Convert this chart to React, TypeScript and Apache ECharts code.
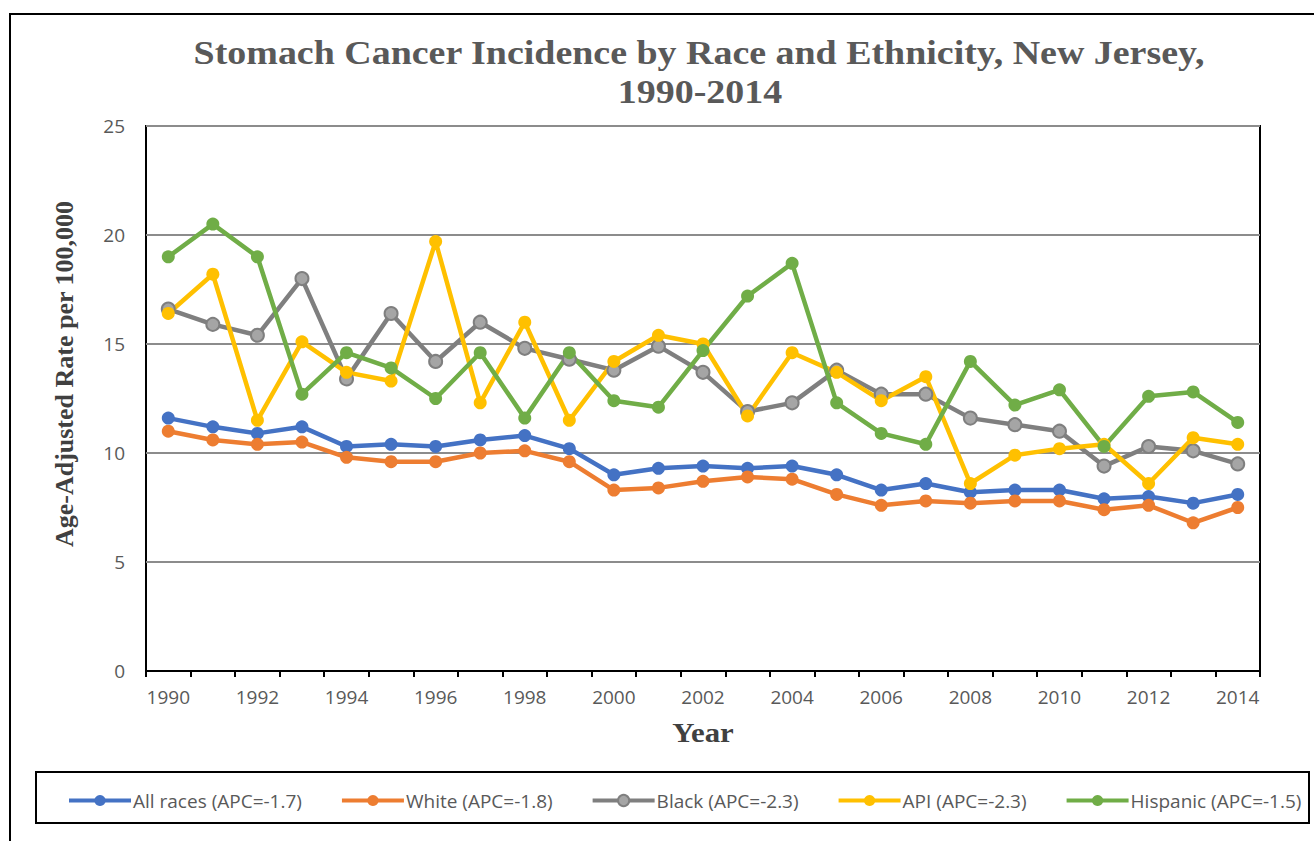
import React, { useEffect, useRef } from "react";
import * as echarts from "echarts";

const years = ["1990","1991","1992","1993","1994","1995","1996","1997","1998","1999","2000","2001","2002","2003","2004","2005","2006","2007","2008","2009","2010","2011","2012","2013","2014"];
const allRaces = [11.6, 11.2, 10.9, 11.2, 10.3, 10.4, 10.3, 10.6, 10.8, 10.2, 9.0, 9.3, 9.4, 9.3, 9.4, 9.0, 8.3, 8.6, 8.2, 8.3, 8.3, 7.9, 8.0, 7.7, 8.1];
const white = [11.0, 10.6, 10.4, 10.5, 9.8, 9.6, 9.6, 10.0, 10.1, 9.6, 8.3, 8.4, 8.7, 8.9, 8.8, 8.1, 7.6, 7.8, 7.7, 7.8, 7.8, 7.4, 7.6, 6.8, 7.5];
const black = [16.6, 15.9, 15.4, 18.0, 13.4, 16.4, 14.2, 16.0, 14.8, 14.3, 13.8, 14.9, 13.7, 11.9, 12.3, 13.8, 12.7, 12.7, 11.6, 11.3, 11.0, 9.4, 10.3, 10.1, 9.5];
const api = [16.4, 18.2, 11.5, 15.1, 13.7, 13.3, 19.7, 12.3, 16.0, 11.5, 14.2, 15.4, 15.0, 11.7, 14.6, 13.7, 12.4, 13.5, 8.6, 9.9, 10.2, 10.4, 8.6, 10.7, 10.4];
const hispanic = [19.0, 20.5, 19.0, 12.7, 14.6, 13.9, 12.5, 14.6, 11.6, 14.6, 12.4, 12.1, 14.7, 17.2, 18.7, 12.3, 10.9, 10.4, 14.2, 12.2, 12.9, 10.3, 12.6, 12.8, 11.4];
const seriesNames = ["All races (APC=-1.7)", "White (APC=-1.8)", "Black (APC=-2.3)", "API (APC=-2.3)", "Hispanic (APC=-1.5)"];
const seriesColors = ["#4472C4", "#ED7D31", "#7F7F7F", "#FFC000", "#70AD47"];
const titleLines = ["Stomach Cancer Incidence by Race and Ethnicity, New Jersey,", "1990-2014"];
const xAxisTitle = "Year";
const yAxisTitle = "Age-Adjusted Rate per 100,000";

export default function App() {
  const ref = useRef<HTMLDivElement>(null);
  useEffect(() => {
    if (!ref.current) return;
    const chart = echarts.init(ref.current, undefined, { renderer: "svg" });
    const datasets = [allRaces, white, black, api, hispanic];
    const series = datasets.map((d, i) => ({
      name: seriesNames[i],
      type: "line",
      data: d,
      symbol: "circle",
      symbolSize: 13,
      lineStyle: { width: 4.5, color: seriesColors[i] },
      itemStyle: i === 2
        ? { color: "#A5A5A5", borderColor: "#7F7F7F", borderWidth: 2 }
        : { color: seriesColors[i] },
      emphasis: { disabled: true },
    }));
    const serifBold = (size: number, color: string) => ({
      fontFamily: "Liberation Serif",
      fontWeight: "bold",
      fontSize: size,
      fill: color,
      align: "center",
      verticalAlign: "middle",
    });
    chart.setOption({
      animation: false,
      backgroundColor: "#ffffff",
      graphic: [
        {
          type: "rect",
          shape: { x: 10, y: 14, width: 1320, height: 840 },
          style: { fill: "none", stroke: "#000", lineWidth: 2 },
          silent: true,
        },
        {
          type: "rect",
          shape: { x: 36, y: 772, width: 1273, height: 51 },
          style: { fill: "none", stroke: "#000", lineWidth: 2 },
          silent: true,
        },
        {
          type: "text",
          x: 699,
          y: 52.5,
          scaleX: 1.15,
          style: { text: titleLines[0], ...serifBold(33, "#595959") },
          silent: true,
        },
        {
          type: "text",
          x: 700,
          y: 91.5,
          scaleX: 1.15,
          style: { text: titleLines[1], ...serifBold(33, "#595959") },
          silent: true,
        },
        {
          type: "text",
          x: 703,
          y: 732,
          scaleX: 1.1,
          style: { text: xAxisTitle, ...serifBold(28, "#404040") },
          silent: true,
        },
        {
          type: "text",
          x: 64,
          y: 374,
          rotation: Math.PI / 2,
          style: { text: yAxisTitle, ...serifBold(26, "#404040") },
          silent: true,
        },
      ],
      legend: {
        data: seriesNames,
        left: 62,
        top: 786,
        width: 1260,
        itemWidth: 62,
        itemHeight: 14,
        itemGap: 38,
        lineStyle: { width: 4 },
        textStyle: { fontFamily: "Open Sans", fontSize: 19, color: "#595959", padding: [0, 0, 0, -3] },
      },
      grid: {
        left: 146,
        top: 126,
        right: 54,
        bottom: 170,
        show: true,
        borderColor: "#000",
        borderWidth: 2,
        containLabel: false,
      },
      xAxis: {
        type: "category",
        data: years,
        boundaryGap: true,
        axisLine: { lineStyle: { color: "#000", width: 2 } },
        axisTick: { show: true, interval: 0, length: 6, lineStyle: { color: "#000", width: 2 } },
        axisLabel: { interval: 1, fontFamily: "Open Sans", fontSize: 19, color: "#595959", margin: 16 },
        splitLine: { show: false },
      },
      yAxis: {
        type: "value",
        min: 0,
        max: 25,
        interval: 5,
        axisLine: { show: false },
        axisTick: { show: false },
        axisLabel: { fontFamily: "Open Sans", fontSize: 19, color: "#595959", margin: 21 },
        splitLine: { lineStyle: { color: "#8C8C8C", width: 2 } },
      },
      series,
    });
    return () => chart.dispose();
  }, []);
  return (
    <div
      ref={ref}
      style={{ position: "absolute", left: 0, top: 0, width: 1314, height: 841 }}
    />
  );
}
